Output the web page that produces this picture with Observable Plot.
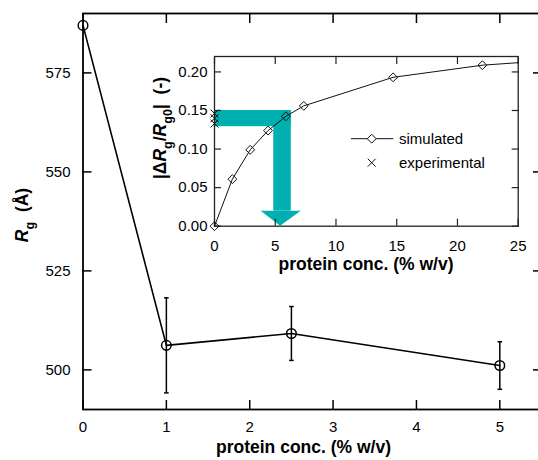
<!DOCTYPE html>
<html>
<head>
<meta charset="utf-8">
<script src="https://cdn.jsdelivr.net/npm/d3@7"></script>
<script src="https://cdn.jsdelivr.net/npm/@observablehq/plot@0.6"></script>
<style>
  html, body { margin: 0; padding: 0; background: white; overflow: hidden; }
  #wrap { position: relative; width: 538px; height: 460px; overflow: hidden; background: white; }
  #wrap svg { position: absolute; max-width: none !important; }
</style>
</head>
<body>
<div id="wrap"></div>
<script>
// ---------- data: main panel ----------
const mainConc = [0, 1, 2.5, 5];
const mainRg = [587, 506.2, 509.2, 501.1];
const mainErr = [0, 12, 6.8, 6];
const mainXTicks = [0, 1, 2, 3, 4, 5];
const mainYTicks = [500, 525, 550, 575];

// ---------- data: inset ----------
const simConc = [0, 1.47, 2.94, 4.41, 5.88, 7.35, 14.7, 22.05];
const simDR = [0, 0.061, 0.099, 0.124, 0.1425, 0.156, 0.193, 0.2087];
const curveConc = [...simConc, 25];
const curveDR = [...simDR, 0.212];
const expConc = [0, 0, 0];
const expDR = [0.146, 0.140, 0.133];
const insetXTicks = [0, 5, 10, 15, 20, 25];
const insetYTicks = [0, 0.05, 0.10, 0.15, 0.20];

// teal arrow (data units of the inset)
const bandConc = [0, 6.32];
const bandDR = [0.129, 0.150];
const stemConc = [4.88, 6.32];
const stemDR = [0.0195, 0.150];
const headConc = [3.84, 7.14, 5.44];   // left, right, tip
const headDR = [0.0195, 0];            // base, tip

const TEAL = "#00afaf";
const FONT = "'Liberation Sans', Arial, Helvetica, sans-serif";
const TICKFONT = 15;

const mainData = mainConc.map((x, i) => ({x, y: mainRg[i], e: mainErr[i]}));
const errData = mainData.filter(d => d.e > 0).map(d => ({x: d.x, y1: d.y - d.e, y2: d.y + d.e}));
const capData = errData.flatMap(d => [{x: d.x, y: d.y1}, {x: d.x, y: d.y2}]);
const capSymbol = {draw(ctx, size) { const r = Math.sqrt(size / Math.PI); ctx.moveTo(-r, 0); ctx.lineTo(r, 0); }};

const main = Plot.plot({
  width: 545, height: 460,
  marginLeft: 82.5, marginRight: 4, marginTop: 13, marginBottom: 51,
  x: {domain: [0, 5.5]},
  y: {domain: [490, 590]},
  style: {fontFamily: FONT, fontSize: TICKFONT + "px", color: "black", background: "white", maxWidth: "none"},
  marks: [
    Plot.frame({stroke: "black", strokeWidth: 1.8}),
    Plot.axisX({ticks: mainXTicks, anchor: "bottom", tickSize: -9, tickPadding: 21, tickFormat: d3.format("d"), strokeWidth: 1.5, label: null, fontSize: TICKFONT}),
    Plot.axisX({ticks: mainXTicks, anchor: "top", tickSize: -9, tickFormat: () => "", strokeWidth: 1.5, label: null}),
    Plot.axisY({ticks: mainYTicks, anchor: "left", tickSize: -9, tickPadding: 21.5, tickFormat: d3.format("d"), strokeWidth: 1.5, label: null, fontSize: TICKFONT}),
    Plot.axisY({ticks: mainYTicks, anchor: "right", tickSize: -9, tickFormat: () => "", strokeWidth: 1.5, label: null}),
    Plot.ruleX(errData, {x: "x", y1: "y1", y2: "y2", stroke: "black", strokeWidth: 1.5}),
    Plot.dot(capData, {x: "x", y: "y", symbol: capSymbol, r: 2.3, fill: "none", stroke: "black", strokeWidth: 1.5}),
    Plot.line(mainData, {x: "x", y: "y", stroke: "black", strokeWidth: 1.6}),
    Plot.dot(mainData, {x: "x", y: "y", r: 4.8, fill: "none", stroke: "black", strokeWidth: 1.5})
  ]
});
main.style.left = "0px"; main.style.top = "0px"; main.style.maxWidth = "none";
document.getElementById("wrap").appendChild(main);

// ---------- inset ----------
const curveData = curveConc.map((x, i) => ({x, y: curveDR[i]}));
const simData = simConc.map((x, i) => ({x, y: simDR[i]}));
const expData = expConc.map((x, i) => ({x, y: expDR[i]}));
const headData = [
  {y: headDR[0], x1: headConc[0], x2: headConc[1]},
  {y: headDR[1], x1: headConc[2], x2: headConc[2]}
];

const inset = Plot.plot({
  width: 398, height: 240,
  marginLeft: 74, marginRight: 20.3, marginTop: 16, marginBottom: 54.3,
  x: {domain: [0, 25]},
  y: {domain: [0, 0.22]},
  style: {fontFamily: FONT, fontSize: TICKFONT + "px", color: "black", background: "transparent", overflow: "visible", maxWidth: "none"},
  marks: [
    Plot.frame({fill: "white", stroke: "none"}),
    Plot.rect([0], {x1: bandConc[0], x2: bandConc[1], y1: bandDR[0], y2: bandDR[1], fill: TEAL}),
    Plot.rect([0], {x1: stemConc[0], x2: stemConc[1], y1: stemDR[0], y2: stemDR[1], fill: TEAL}),
    Plot.areaX(headData, {y: "y", x1: "x1", x2: "x2", fill: TEAL}),
    Plot.frame({stroke: "#222", strokeWidth: 1.3}),
    Plot.axisX({ticks: insetXTicks, anchor: "bottom", tickSize: -7, tickPadding: 21, tickFormat: d3.format("d"), stroke: "#222", strokeWidth: 1.2, label: null, fontSize: TICKFONT}),
    Plot.axisX({ticks: insetXTicks, anchor: "top", tickSize: -7, tickFormat: () => "", stroke: "#222", strokeWidth: 1.2, label: null}),
    Plot.axisY({ticks: insetYTicks, anchor: "left", tickSize: -7, tickPadding: 14, tickFormat: d3.format(".2f"), stroke: "#222", strokeWidth: 1.2, label: null, fontSize: TICKFONT}),
    Plot.axisY({ticks: insetYTicks, anchor: "right", tickSize: -7, tickFormat: () => "", stroke: "#222", strokeWidth: 1.2, label: null}),
    Plot.line(curveData, {x: "x", y: "y", stroke: "#111", strokeWidth: 1}),
    Plot.dot(simData, {x: "x", y: "y", symbol: "diamond2", r: 4, fill: "none", stroke: "#111", strokeWidth: 1}),
    Plot.dot(expData, {x: "x", y: "y", symbol: "times", r: 3.7, stroke: "#111", strokeWidth: 1})
  ]
});
inset.style.left = "140px"; inset.style.top = "40px"; inset.style.maxWidth = "none";
document.getElementById("wrap").appendChild(inset);

// ---------- rich text labels ----------
function richText(svg, {x, y, rotate = 0, size, anchor = "middle", weight = "bold", parts}) {
  const t = d3.select(svg).append("text")
    .attr("transform", `translate(${x},${y}) rotate(${rotate})`)
    .attr("text-anchor", anchor)
    .attr("font-family", FONT)
    .attr("font-size", size)
    .attr("font-weight", weight)
    .attr("fill", "black");
  let shifted = 0;
  for (const p of parts) {
    const ts = t.append("tspan").text(p.t);
    const want = p.sub ? 0.35 * size : 0;
    if (want !== shifted) { ts.attr("dy", want - shifted); shifted = want; }
    if (p.sub) ts.attr("font-size", size * 0.72);
    if (p.italic) ts.attr("font-style", "italic");
  }
  return t;
}

// main axis labels
richText(main, {x: 303.5, y: 453, size: 17.5, parts: [{t: "protein conc. (% w/v)"}]});
richText(main, {x: 28, y: 215, rotate: -90, size: 17.5, parts: [
  {t: "R", italic: true}, {t: "g", sub: true}, {t: "  (Å)"}
]});

// inset axis labels (inset svg coords: offset 140,40)
richText(inset, {x: 226, y: 230, size: 17.5, parts: [{t: "protein conc. (% w/v)"}]});
richText(inset, {x: 26, y: 88, rotate: -90, size: 17.5, parts: [
  {t: "|Δ"}, {t: "R", italic: true}, {t: "g", sub: true}, {t: "/"},
  {t: "R", italic: true}, {t: "g0", sub: true}, {t: "|  (-)"}
]});

// inset legend
const lg = d3.select(inset).append("g")
  .attr("font-family", FONT).attr("font-size", 15).attr("text-anchor", "start");
lg.append("line").attr("x1", 211).attr("x2", 253.3).attr("y1", 98.7).attr("y2", 98.7)
  .attr("stroke", "#111").attr("stroke-width", 1);
lg.append("path").attr("d", d3.symbol(d3.symbolDiamond2, Math.PI * 16)())
  .attr("transform", "translate(231.7,98.7)").attr("fill", "white").attr("stroke", "#111");
lg.append("text").attr("x", 259).attr("y", 104).attr("text-anchor", "start").text("simulated");
lg.append("path").attr("d", d3.symbol(d3.symbolTimes, Math.PI * 3.7 * 3.7)())
  .attr("transform", "translate(231.7,122.7)").attr("fill", "none").attr("stroke", "#111");
lg.append("text").attr("x", 259).attr("y", 128).attr("text-anchor", "start").text("experimental");
</script>
</body>
</html>
